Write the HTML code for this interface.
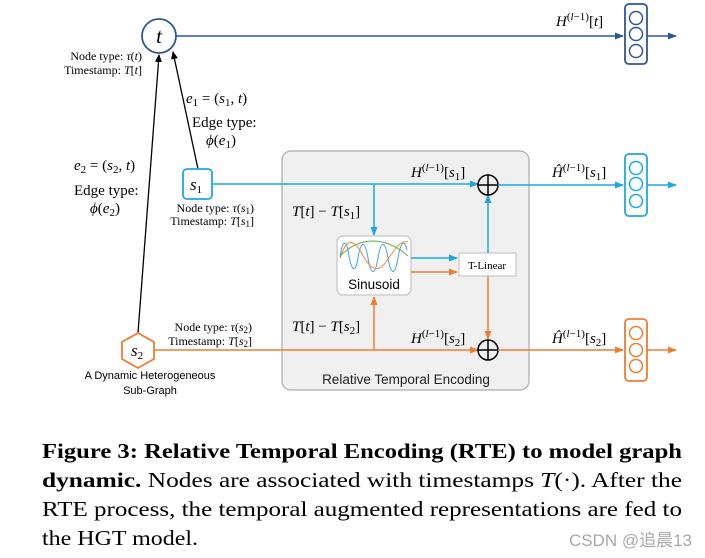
<!DOCTYPE html>
<html><head><meta charset="utf-8"><style>
html,body{margin:0;padding:0;background:#fff;width:705px;height:558px;overflow:hidden}
svg{display:block}
.s{font-family:"Liberation Serif",serif}
.i{font-style:italic}
.a{font-family:"Liberation Sans",sans-serif}
</style></head><body>
<svg width="705" height="558" viewBox="0 0 705 558" xmlns="http://www.w3.org/2000/svg">
<defs>
<marker id="mk" markerWidth="8" markerHeight="8" refX="7" refY="4" orient="auto" markerUnits="userSpaceOnUse"><path d="M0,0.5 L8,4 L0,7.5z" fill="#000"/></marker>
<marker id="mdb" markerWidth="9" markerHeight="8" refX="8" refY="4" orient="auto" markerUnits="userSpaceOnUse"><path d="M0,0.5 L9,4 L0,7.5z" fill="#2f5597"/></marker>
<marker id="mc" markerWidth="9" markerHeight="8" refX="8" refY="4" orient="auto" markerUnits="userSpaceOnUse"><path d="M0,0.5 L9,4 L0,7.5z" fill="#1ea7e1"/></marker>
<marker id="mo" markerWidth="9" markerHeight="8" refX="8" refY="4" orient="auto" markerUnits="userSpaceOnUse"><path d="M0,0.5 L9,4 L0,7.5z" fill="#ed7d31"/></marker>
</defs>
<rect x="282" y="151" width="247" height="239" rx="9" fill="#f0f0f0" stroke="#b8b8b8" stroke-width="1.5"/>
<text x="406" y="384" class="a" font-size="13.5" text-anchor="middle" fill="#222">Relative Temporal Encoding</text>

<circle cx="159" cy="36" r="17" fill="#fff" stroke="#2f5597" stroke-width="1.8"/>
<text x="159" y="43" class="s i" font-size="21" text-anchor="middle">t</text>
<line x1="176" y1="36" x2="623" y2="36" stroke="#2f5597" stroke-width="1.5" marker-end="url(#mdb)"/>
<line x1="647" y1="36" x2="676" y2="36" stroke="#2f5597" stroke-width="1.5" marker-end="url(#mdb)"/>
<rect x="625" y="4" width="22" height="60" rx="4" fill="#fff" stroke="#2f5597" stroke-width="1.8"/>
<circle cx="636" cy="18" r="6.5" fill="none" stroke="#2f5597" stroke-width="1.5"/>
<circle cx="636" cy="34" r="6.5" fill="none" stroke="#2f5597" stroke-width="1.5"/>
<circle cx="636" cy="51" r="6.5" fill="none" stroke="#2f5597" stroke-width="1.5"/>
<text x="556" y="26" class="s" font-size="15"><tspan class="i">H</tspan><tspan font-size="11" dy="-6">(</tspan><tspan font-size="11" class="i">l</tspan><tspan font-size="11">−1)</tspan><tspan dy="6">[</tspan><tspan class="i">t</tspan>]</text>
<text x="142" y="60" class="s" font-size="12" text-anchor="end">Node type: <tspan class="i">τ</tspan>(<tspan class="i">t</tspan>)</text>
<text x="142" y="74" class="s" font-size="12" text-anchor="end">Timestamp: <tspan class="i">T</tspan>[<tspan class="i">t</tspan>]</text>

<line x1="138" y1="333" x2="159" y2="55" stroke="#000" stroke-width="1.3" marker-end="url(#mk)"/>
<line x1="198" y1="169" x2="173" y2="52" stroke="#000" stroke-width="1.3" marker-end="url(#mk)"/>
<text x="186" y="103" class="s" font-size="15"><tspan class="i">e</tspan><tspan font-size="11" dy="3">1</tspan><tspan dy="-3"> = (</tspan><tspan class="i">s</tspan><tspan font-size="11" dy="3">1</tspan><tspan dy="-3">, </tspan><tspan class="i">t</tspan>)</text>
<text x="192" y="127" class="s" font-size="15">Edge type:</text>
<text x="206" y="145" class="s" font-size="15"><tspan class="i">ϕ</tspan>(<tspan class="i">e</tspan><tspan font-size="11" dy="3">1</tspan><tspan dy="-3">)</tspan></text>
<text x="74" y="170" class="s" font-size="15"><tspan class="i">e</tspan><tspan font-size="11" dy="3">2</tspan><tspan dy="-3"> = (</tspan><tspan class="i">s</tspan><tspan font-size="11" dy="3">2</tspan><tspan dy="-3">, </tspan><tspan class="i">t</tspan>)</text>
<text x="74" y="195" class="s" font-size="15">Edge type:</text>
<text x="90" y="213" class="s" font-size="15"><tspan class="i">ϕ</tspan>(<tspan class="i">e</tspan><tspan font-size="11" dy="3">2</tspan><tspan dy="-3">)</tspan></text>

<line x1="212" y1="184" x2="478" y2="184" stroke="#1ea7e1" stroke-width="1.5" marker-end="url(#mc)"/>
<rect x="183" y="169" width="29" height="30" rx="4" fill="#fff" stroke="#1ea7e1" stroke-width="1.8"/>
<text x="196" y="190" class="s i" font-size="17" text-anchor="middle">s<tspan font-size="11" dy="3" font-style="normal">1</tspan></text>
<text x="254" y="212" class="s" font-size="12" text-anchor="end">Node type: <tspan class="i">τ</tspan>(<tspan class="i">s</tspan><tspan font-size="9" dy="2">1</tspan><tspan dy="-2">)</tspan></text>
<text x="254" y="225" class="s" font-size="12" text-anchor="end">Timestamp: <tspan class="i">T</tspan>[<tspan class="i">s</tspan><tspan font-size="9" dy="2">1</tspan><tspan dy="-2">]</tspan></text>

<line x1="155" y1="350" x2="478" y2="350" stroke="#ed7d31" stroke-width="1.5" marker-end="url(#mo)"/>
<polygon points="138,333 154,342 154,359 138,368 122,359 122,342" fill="#fff" stroke="#ed7d31" stroke-width="1.8"/>
<text x="137" y="356" class="s i" font-size="17" text-anchor="middle">s<tspan font-size="11" dy="3" font-style="normal">2</tspan></text>
<text x="252" y="331" class="s" font-size="12" text-anchor="end">Node type: <tspan class="i">τ</tspan>(<tspan class="i">s</tspan><tspan font-size="9" dy="2">2</tspan><tspan dy="-2">)</tspan></text>
<text x="252" y="345" class="s" font-size="12" text-anchor="end">Timestamp: <tspan class="i">T</tspan>[<tspan class="i">s</tspan><tspan font-size="9" dy="2">2</tspan><tspan dy="-2">]</tspan></text>
<text x="150" y="379" class="a" font-size="11" text-anchor="middle">A Dynamic Heterogeneous</text>
<text x="150" y="394" class="a" font-size="11" text-anchor="middle">Sub-Graph</text>

<line x1="374" y1="184" x2="374" y2="235" stroke="#1ea7e1" stroke-width="1.5" marker-end="url(#mc)"/>
<line x1="374" y1="350" x2="374" y2="297" stroke="#ed7d31" stroke-width="1.5" marker-end="url(#mo)"/>
<text x="292" y="216" class="s" font-size="15"><tspan class="i">T</tspan>[<tspan class="i">t</tspan>] − <tspan class="i">T</tspan>[<tspan class="i">s</tspan><tspan font-size="11" dy="3">1</tspan><tspan dy="-3">]</tspan></text>
<text x="292" y="331" class="s" font-size="15"><tspan class="i">T</tspan>[<tspan class="i">t</tspan>] − <tspan class="i">T</tspan>[<tspan class="i">s</tspan><tspan font-size="11" dy="3">2</tspan><tspan dy="-3">]</tspan></text>

<rect x="337" y="236" width="74" height="59" rx="6" fill="#fff" stroke="#c8c8c8" stroke-width="1.3"/>
<path d="M340,258 C342,240 346,240 348,250 C351,270 355,276 358,258 C361,240 365,240 368,258 C371,276 375,276 378,258 C381,240 385,240 388,258 C391,276 395,276 398,258 C401,240 405,240 407,250" fill="none" stroke="#4a9fe0" stroke-width="1"/>
<path d="M340,258 C346,240 352,238 360,250 C368,266 376,276 386,262 C394,250 400,240 408,242" fill="none" stroke="#f0903a" stroke-width="1"/>
<path d="M340,256 C360,236 385,236 408,256" fill="none" stroke="#5ab04a" stroke-width="1"/>
<text x="374" y="289" class="a" font-size="13.5" text-anchor="middle">Sinusoid</text>

<line x1="411" y1="258" x2="457" y2="258" stroke="#1ea7e1" stroke-width="1.5" marker-end="url(#mc)"/>
<line x1="411" y1="272" x2="457" y2="272" stroke="#ed7d31" stroke-width="1.5" marker-end="url(#mo)"/>
<rect x="459" y="253" width="57" height="23" fill="#fff" stroke="#c8c8c8" stroke-width="1.2"/>
<text x="487" y="269" class="s" font-size="11" text-anchor="middle">T-Linear</text>
<line x1="488" y1="253" x2="488" y2="195" stroke="#1ea7e1" stroke-width="1.5" marker-end="url(#mc)"/>
<line x1="488" y1="276" x2="488" y2="339" stroke="#ed7d31" stroke-width="1.5" marker-end="url(#mo)"/>

<g stroke="#000" stroke-width="1.5" fill="none">
<circle cx="488" cy="185" r="10"/><line x1="478" y1="185" x2="498" y2="185"/><line x1="488" y1="175" x2="488" y2="195"/>
<circle cx="488" cy="350" r="10"/><line x1="478" y1="350" x2="498" y2="350"/><line x1="488" y1="340" x2="488" y2="360"/>
</g>
<text x="411" y="177" class="s" font-size="15"><tspan class="i">H</tspan><tspan font-size="11" dy="-6">(</tspan><tspan font-size="11" class="i">l</tspan><tspan font-size="11">−1)</tspan><tspan dy="6">[</tspan><tspan class="i">s</tspan><tspan font-size="11" dy="3">1</tspan><tspan dy="-3">]</tspan></text>
<text x="411" y="343" class="s" font-size="15"><tspan class="i">H</tspan><tspan font-size="11" dy="-6">(</tspan><tspan font-size="11" class="i">l</tspan><tspan font-size="11">−1)</tspan><tspan dy="6">[</tspan><tspan class="i">s</tspan><tspan font-size="11" dy="3">2</tspan><tspan dy="-3">]</tspan></text>

<line x1="498" y1="185" x2="623" y2="185" stroke="#1ea7e1" stroke-width="1.5" marker-end="url(#mc)"/>
<line x1="647" y1="185" x2="676" y2="185" stroke="#1ea7e1" stroke-width="1.5" marker-end="url(#mc)"/>
<rect x="625" y="154" width="22" height="62" rx="4" fill="#fff" stroke="#1ea7e1" stroke-width="1.8"/>
<circle cx="636" cy="168" r="6.5" fill="none" stroke="#1ea7e1" stroke-width="1.5"/>
<circle cx="636" cy="184" r="6.5" fill="none" stroke="#1ea7e1" stroke-width="1.5"/>
<circle cx="636" cy="201" r="6.5" fill="none" stroke="#1ea7e1" stroke-width="1.5"/>
<text x="552" y="177" class="s" font-size="15"><tspan class="i">Ĥ</tspan><tspan font-size="11" dy="-6">(</tspan><tspan font-size="11" class="i">l</tspan><tspan font-size="11">−1)</tspan><tspan dy="6">[</tspan><tspan class="i">s</tspan><tspan font-size="11" dy="3">1</tspan><tspan dy="-3">]</tspan></text>

<line x1="498" y1="350" x2="623" y2="350" stroke="#ed7d31" stroke-width="1.5" marker-end="url(#mo)"/>
<line x1="647" y1="350" x2="676" y2="350" stroke="#ed7d31" stroke-width="1.5" marker-end="url(#mo)"/>
<rect x="625" y="319" width="22" height="62" rx="4" fill="#fff" stroke="#ed7d31" stroke-width="1.8"/>
<circle cx="636" cy="333" r="6.5" fill="none" stroke="#ed7d31" stroke-width="1.5"/>
<circle cx="636" cy="350" r="6.5" fill="none" stroke="#ed7d31" stroke-width="1.5"/>
<circle cx="636" cy="366" r="6.5" fill="none" stroke="#ed7d31" stroke-width="1.5"/>
<text x="552" y="343" class="s" font-size="15"><tspan class="i">Ĥ</tspan><tspan font-size="11" dy="-6">(</tspan><tspan font-size="11" class="i">l</tspan><tspan font-size="11">−1)</tspan><tspan dy="6">[</tspan><tspan class="i">s</tspan><tspan font-size="11" dy="3">2</tspan><tspan dy="-3">]</tspan></text>

<text x="42" y="458" class="s" font-size="21" font-weight="bold" textLength="640" lengthAdjust="spacingAndGlyphs">Figure 3: Relative Temporal Encoding (RTE) to model graph</text>
<text x="42" y="487" class="s" font-size="21" textLength="640" lengthAdjust="spacingAndGlyphs"><tspan font-weight="bold">dynamic.</tspan> Nodes are associated with timestamps <tspan class="i">T</tspan>(·). After the</text>
<text x="42" y="516" class="s" font-size="21" textLength="640" lengthAdjust="spacingAndGlyphs">RTE process, the temporal augmented representations are fed to</text>
<text x="42" y="545" class="s" font-size="21" textLength="156" lengthAdjust="spacingAndGlyphs">the HGT model.</text>
<text x="692" y="546" class="a" font-size="17" text-anchor="end" fill="#a8a8a8" style="font-family:'Liberation Sans','Noto Sans CJK SC',sans-serif">CSDN @追晨13</text>
</svg>
</body></html>
